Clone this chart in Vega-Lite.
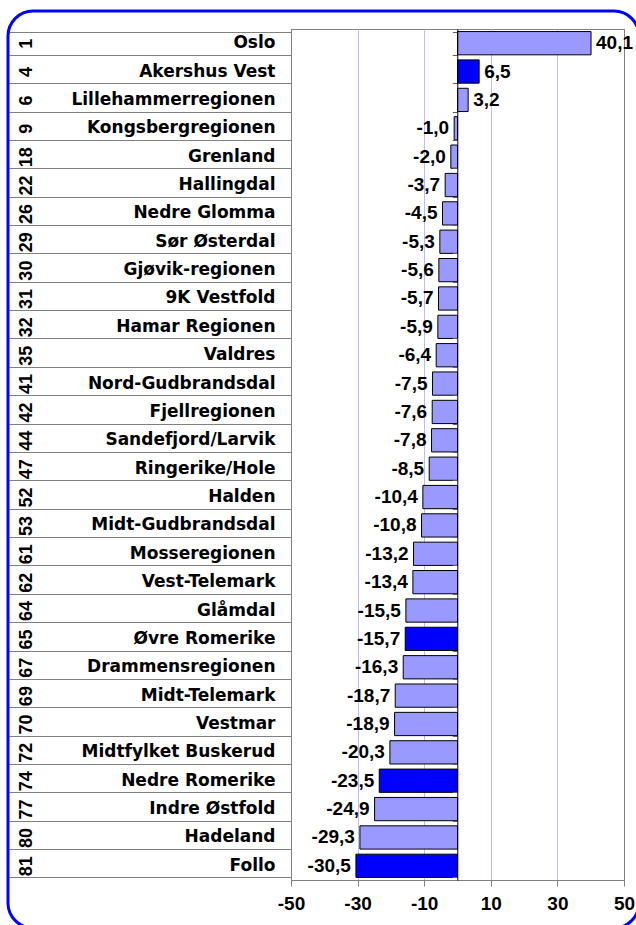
{
  "$schema": "https://vega.github.io/schema/vega-lite/v6.json",
  "width": 333,
  "height": 851,
  "autosize": {"type": "none"},
  "padding": {"left": 291, "top": 29, "right": 12, "bottom": 45},
  "background": "white",
  "data": {
    "values": [
      {"rank": 1, "name": "Oslo", "value": 40.1, "group": "normal"},
      {"rank": 4, "name": "Akershus Vest", "value": 6.5, "group": "markert"},
      {"rank": 6, "name": "Lillehammerregionen", "value": 3.2, "group": "normal"},
      {"rank": 9, "name": "Kongsbergregionen", "value": -1.0, "group": "normal"},
      {"rank": 18, "name": "Grenland", "value": -2.0, "group": "normal"},
      {"rank": 22, "name": "Hallingdal", "value": -3.7, "group": "normal"},
      {"rank": 26, "name": "Nedre Glomma", "value": -4.5, "group": "normal"},
      {"rank": 29, "name": "Sør Østerdal", "value": -5.3, "group": "normal"},
      {"rank": 30, "name": "Gjøvik-regionen", "value": -5.6, "group": "normal"},
      {"rank": 31, "name": "9K Vestfold", "value": -5.7, "group": "normal"},
      {"rank": 32, "name": "Hamar Regionen", "value": -5.9, "group": "normal"},
      {"rank": 35, "name": "Valdres", "value": -6.4, "group": "normal"},
      {"rank": 41, "name": "Nord-Gudbrandsdal", "value": -7.5, "group": "normal"},
      {"rank": 42, "name": "Fjellregionen", "value": -7.6, "group": "normal"},
      {"rank": 44, "name": "Sandefjord/Larvik", "value": -7.8, "group": "normal"},
      {"rank": 47, "name": "Ringerike/Hole", "value": -8.5, "group": "normal"},
      {"rank": 52, "name": "Halden", "value": -10.4, "group": "normal"},
      {"rank": 53, "name": "Midt-Gudbrandsdal", "value": -10.8, "group": "normal"},
      {"rank": 61, "name": "Mosseregionen", "value": -13.2, "group": "normal"},
      {"rank": 62, "name": "Vest-Telemark", "value": -13.4, "group": "normal"},
      {"rank": 64, "name": "Glåmdal", "value": -15.5, "group": "normal"},
      {"rank": 65, "name": "Øvre Romerike", "value": -15.7, "group": "markert"},
      {"rank": 67, "name": "Drammensregionen", "value": -16.3, "group": "normal"},
      {"rank": 69, "name": "Midt-Telemark", "value": -18.7, "group": "normal"},
      {"rank": 70, "name": "Vestmar", "value": -18.9, "group": "normal"},
      {"rank": 72, "name": "Midtfylket Buskerud", "value": -20.3, "group": "normal"},
      {"rank": 74, "name": "Nedre Romerike", "value": -23.5, "group": "markert"},
      {"rank": 77, "name": "Indre Østfold", "value": -24.9, "group": "normal"},
      {"rank": 80, "name": "Hadeland", "value": -29.3, "group": "normal"},
      {"rank": 81, "name": "Follo", "value": -30.5, "group": "markert"}
    ]
  },
  "config": {
    "font": "DejaVu Sans",
    "view": {"stroke": "#808080", "strokeWidth": 1},
    "axis": {"labelFont": "DejaVu Sans"},
    "locale": {
      "number": {"decimal": ",", "thousands": " ", "grouping": [3], "currency": ["", " kr"], "minus": "-"}
    }
  },
  "resolve": {"scale": {"y": "independent"}, "axis": {"y": "independent"}},
  "layer": [
    {
      "data": {"values": [{}]},
      "mark": {"type": "rect", "fill": null, "stroke": "#0000FF", "strokeWidth": 3, "cornerRadius": 25},
      "encoding": {
        "x": {"value": -283},
        "x2": {"value": 348},
        "y": {"value": -18},
        "y2": {"value": 899}
      }
    },
    {
      "mark": {"type": "bar", "stroke": "black", "strokeWidth": 1},
      "encoding": {
        "y": {
          "field": "rank", "type": "ordinal", "sort": null,
          "scale": {"type": "band", "paddingInner": 0.18, "paddingOuter": 0.09},
          "axis": {
            "orient": "left", "title": null, "domain": false, "grid": false,
            "ticks": true, "tickBand": "extent", "tickSize": 282, "tickColor": "#808080", "tickWidth": 1,
            "labelAngle": 270, "labelAlign": "center", "labelBaseline": "middle", "labelPadding": -17,
            "labelFont": "Liberation Sans", "labelFontSize": 18, "labelFontWeight": "bold", "labelColor": "black"
          }
        },
        "x": {
          "field": "value", "type": "quantitative",
          "scale": {"domain": [-50, 50], "nice": false},
          "axis": {
            "title": null, "values": [-50, -30, -10, 10, 30, 50], "format": "d",
            "grid": true,
            "gridColor": {"condition": {"test": "abs(datum.value) == 50", "value": "#808080"}, "value": "#BBBBFF"},
            "domainColor": "#808080", "tickColor": "#808080", "tickSize": 6,
            "labelFlush": false, "labelPadding": 8,
            "labelFont": "Liberation Sans", "labelFontSize": 19, "labelFontWeight": "bold", "labelColor": "black"
          }
        },
        "color": {
          "field": "group", "type": "nominal",
          "scale": {"domain": ["normal", "markert"], "range": ["#9999FF", "#0000FF"]},
          "legend": null
        }
      }
    },
    {
      "mark": {
        "type": "text", "font": "Liberation Sans", "fontWeight": "bold", "fontSize": 19, "color": "black", "baseline": "middle",
        "align": {"expr": "datum.value < 0 ? 'right' : 'left'"},
        "dx": {"expr": "datum.value < 0 ? -5 : 5"}
      },
      "encoding": {
        "y": {
          "field": "name", "type": "nominal", "sort": null,
          "scale": {"type": "band", "paddingInner": 0.18, "paddingOuter": 0.09},
          "axis": {
            "orient": "left", "title": null, "domain": false, "ticks": false, "grid": false,
            "labelPadding": 16, "labelLimit": 400, "labelAlign": "right", "labelBaseline": "middle",
            "labelFontSize": 17, "labelFontWeight": "bold", "labelColor": "black"
          }
        },
        "x": {"field": "value", "type": "quantitative"},
        "text": {"field": "value", "type": "quantitative", "format": ".1f"}
      }
    },
    {
      "mark": {"type": "text", "text": ""},
      "encoding": {
        "y": {
          "field": "name", "type": "nominal", "sort": null,
          "scale": {"type": "band", "paddingInner": 0.18, "paddingOuter": 0.09},
          "axis": {
            "orient": "left", "offset": -166.3, "title": null, "labels": false, "grid": false,
            "domain": true, "domainColor": "black", "domainWidth": 1,
            "ticks": true, "tickBand": "extent", "tickSize": 5, "tickColor": "#606060",
            "zindex": 1
          }
        },
        "x": {"datum": 0}
      }
    }
  ]
}
